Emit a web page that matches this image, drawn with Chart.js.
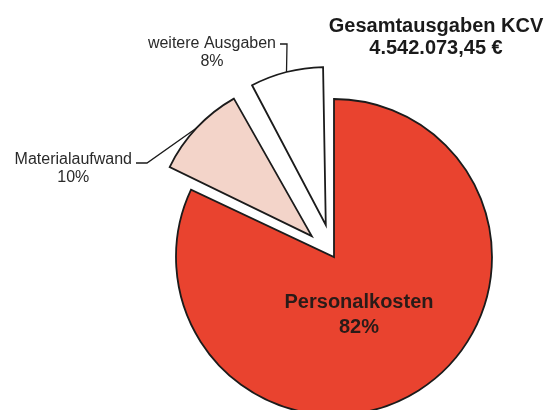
<!DOCTYPE html>
<html lang="de">
<head>
<meta charset="utf-8">
<title>Gesamtausgaben KCV</title>
<script src="https://cdn.jsdelivr.net/npm/chart.js@4.4.1/dist/chart.umd.min.js"></script>
<style>
  html, body { margin: 0; padding: 0; background: #fff; }
  #wrap { position: relative; width: 549px; height: 410px; }
</style>
</head>
<body>
<div id="wrap"><canvas id="kcv-chart"></canvas></div>
<script>
const CATEGORIES = ['Personalkosten', 'Materialaufwand', 'weitere Ausgaben'];
const SHARES = [82, 10, 8];
const TITLE_LINES = ['Gesamtausgaben KCV', '4.542.073,45 €'];

const SLICE_COLORS = ['#e9432f', '#f3d4c9', '#ffffff'];
// Chart.js moves a slice by offset / 4
const SLICE_OFFSETS = [0, 122, 132];
const FONT = '"Liberation Sans", Arial, Helvetica, sans-serif';

// outer labels: right end of the text and elbow of the leader, relative to the pie centre
const OUTER_LABELS = {
  1: { textX: -202, textY: -93, elbowX: -187, elbowY: -94 },
  2: { textX: -58, textY: -209, elbowX: -47, elbowY: -213 },
};

const labelPlugin = {
  id: 'kcvLabels',
  afterDatasetsUpdate(chart) {
    // exploded slices keep the radius of the big slice
    chart.getDatasetMeta(0).data.forEach((arc) => {
      const offset = arc.options.offset || 0;
      const fix = 1 - Math.sin(Math.min(Math.PI, arc.circumference));
      arc.outerRadius -= (offset / 4) * fix;
    });
  },
  afterDraw(chart) {
    const ctx = chart.ctx;
    const meta = chart.getDatasetMeta(0);
    const radius = meta.controller.outerRadius;
    const cx = meta.data[0].x;
    const cy = meta.data[0].y;

    ctx.save();

    // title
    ctx.fillStyle = '#1a1a1a';
    ctx.font = `bold 20px ${FONT}`;
    ctx.textAlign = 'center';
    ctx.textBaseline = 'alphabetic';
    ctx.fillText(TITLE_LINES[0], chart.width - 113, 32);
    ctx.fillText(TITLE_LINES[1], chart.width - 113, 54);

    // label inside the big slice
    ctx.fillStyle = '#2a1b18';
    ctx.font = `bold 20px ${FONT}`;
    ctx.fillText(CATEGORIES[0], cx + 25, cy + 51);
    ctx.fillText(`${SHARES[0]}%`, cx + 25, cy + 76);

    // outer labels with leader lines
    ctx.strokeStyle = '#1b1b1b';
    ctx.lineWidth = 1.3;
    ctx.fillStyle = '#2a2a2a';
    ctx.font = `16px ${FONT}`;
    Object.entries(OUTER_LABELS).forEach(([index, layout]) => {
      const arc = meta.data[index];
      const mid = (arc.startAngle + arc.endAngle) / 2;
      const shift = (arc.options.offset || 0) / 4;
      const px = arc.x + Math.cos(mid) * (shift + radius);
      const py = arc.y + Math.sin(mid) * (shift + radius);

      ctx.beginPath();
      ctx.moveTo(px, py);
      ctx.lineTo(cx + layout.elbowX, cy + layout.elbowY);
      ctx.lineTo(cx + layout.textX + 4, cy + layout.elbowY);
      ctx.stroke();

      const name = CATEGORIES[index];
      const width = ctx.measureText(name).width;
      const centre = cx + layout.textX - width / 2;
      ctx.fillText(name, centre, cy + layout.textY);
      ctx.fillText(`${SHARES[index]}%`, centre, cy + layout.textY + 18);
    });

    ctx.restore();
  },
};

new Chart(document.getElementById('kcv-chart'), {
  type: 'pie',
  data: {
    labels: CATEGORIES,
    datasets: [{
      data: SHARES,
      backgroundColor: SLICE_COLORS,
      borderColor: '#1b1b1b',
      borderWidth: 1.8,
      borderJoinStyle: 'miter',
      offset: SLICE_OFFSETS,
    }],
  },
  options: {
    responsive: true,
    maintainAspectRatio: false,
    animation: false,
    events: [],
    radius: 158,
    layout: { padding: { top: 104, right: 31, bottom: 0, left: 150 } },
    plugins: {
      legend: { display: false },
      tooltip: { enabled: false },
    },
  },
  plugins: [labelPlugin],
});
</script>
</body>
</html>
